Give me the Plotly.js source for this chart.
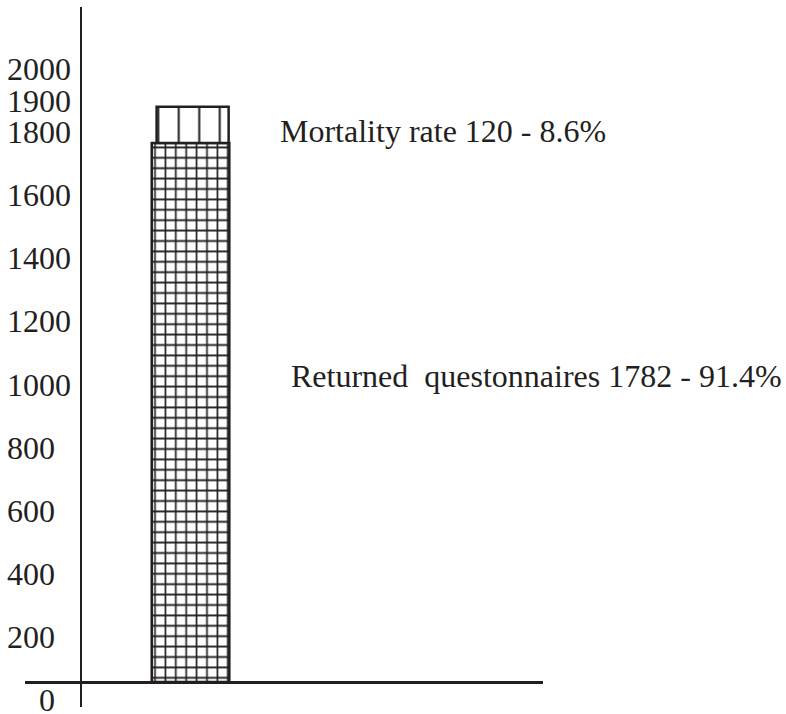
<!DOCTYPE html>
<html>
<head>
<meta charset="utf-8">
<script src="https://cdn.plot.ly/plotly-3.0.1.min.js"></script>
<style>
html,body{margin:0;padding:0;background:#fff;}
#chart{width:786px;height:714px;}
</style>
</head>
<body>
<div id="chart"></div>
<script>
// ---- data ----
const categories = ['Questionnaires'];
const returned = [1782];
const returnedPct = [91.4];
const mortality = [120];
const mortalityPct = [8.6];
const tickVals = [0, 200, 400, 600, 800, 1000, 1200, 1400, 1600, 1800, 1900, 2000];
const tickText = tickVals.map(v => v === 0 ? '\u00a0\u00a0\u00a0\u00a00' : String(v));

const INK = '#231f20';
const FONT = 'Liberation Serif, Times New Roman, serif';

const traces = [
  {
    type: 'bar', x: categories, y: returned, width: 1,
    xaxis: 'x', yaxis: 'y',
    marker: {
      color: '#ffffff',
      pattern: {shape: '+', size: 10.4, solidity: 0.3, fgcolor: INK, bgcolor: '#ffffff', fillmode: 'replace'},
      line: {color: INK, width: 2.5}
    },
    hoverinfo: 'skip', showlegend: false
  },
  {
    type: 'bar', x: categories, y: mortality, base: returned, width: 0.928, offset: -0.437,
    xaxis: 'x', yaxis: 'y',
    marker: {
      color: '#ffffff',
      pattern: {shape: '|', size: 20.5, solidity: 0.1, fgcolor: INK, bgcolor: '#ffffff', fillmode: 'replace'},
      line: {color: INK, width: 2.5}
    },
    hoverinfo: 'skip', showlegend: false
  },
  {
    type: 'scatter', mode: 'markers', x: categories, y: [0],
    xaxis: 'x', yaxis: 'y2', marker: {opacity: 0}, hoverinfo: 'skip', showlegend: false
  }
];

const layout = {
  width: 786, height: 714,
  margin: {l: 0, r: 0, t: 0, b: 0},
  paper_bgcolor: '#ffffff', plot_bgcolor: 'rgba(0,0,0,0)',
  showlegend: false,
  barmode: 'overlay',
  xaxis: {
    domain: [25 / 786, 543 / 786],
    anchor: 'free', position: (714 - 682) / 714,
    range: [-2.133, 4.542],
    showline: true, linecolor: INK, linewidth: 2.5,
    showticklabels: false, ticks: '', showgrid: false, zeroline: false, fixedrange: true
  },
  yaxis: {
    domain: [7 / 714, 707 / 714],
    anchor: 'free', position: 80.5 / 786,
    range: [-82.65, 2231.6],
    showline: true, linecolor: INK, linewidth: 2.5,
    showticklabels: false, ticks: '', showgrid: false, zeroline: false, fixedrange: true
  },
  yaxis2: {
    overlaying: 'y', side: 'right',
    anchor: 'free', position: 6 / 786,
    range: [-22.2, 2195.8],
    tickmode: 'array', tickvals: tickVals, ticktext: tickText,
    tickfont: {family: FONT, size: 32, color: INK},
    ticklabeloverflow: 'allow',
    showline: false, ticks: '', showgrid: false, zeroline: false, fixedrange: true
  },
  annotations: [
    {
      xref: 'paper', yref: 'paper', x: 278 / 786, y: (714 - 131) / 714,
      xanchor: 'left', yanchor: 'middle', showarrow: false,
      text: `Mortality rate ${mortality[0]} - ${mortalityPct[0]}%`,
      font: {family: FONT, size: 32, color: INK}
    },
    {
      xref: 'paper', yref: 'paper', x: 289 / 786, y: (714 - 376) / 714,
      xanchor: 'left', yanchor: 'middle', showarrow: false,
      text: `Returned\u00a0 questonnaires ${returned[0]} - ${returnedPct[0]}%`,
      font: {family: FONT, size: 32, color: INK}
    }
  ]
};

Plotly.newPlot('chart', traces, layout, {staticPlot: true, displayModeBar: false});
</script>
</body>
</html>
